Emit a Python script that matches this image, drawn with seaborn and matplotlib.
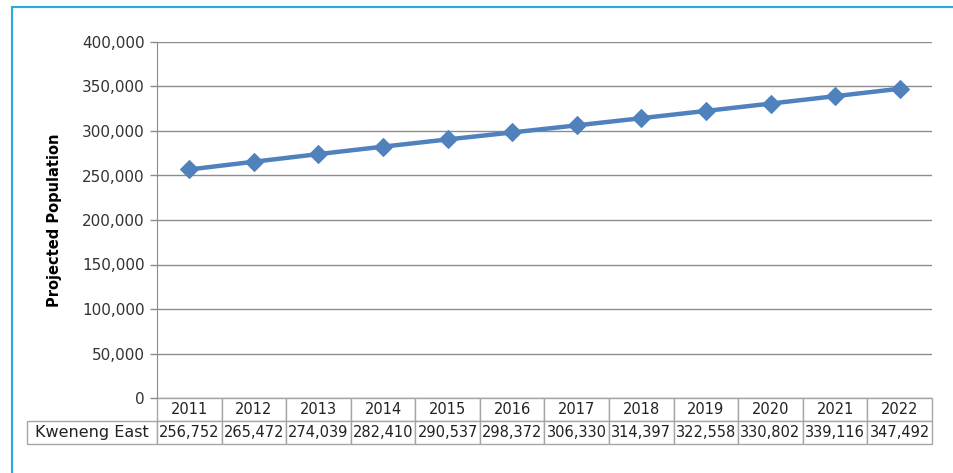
import matplotlib

matplotlib.use("Agg")
import matplotlib.pyplot as plt
from matplotlib.patches import Rectangle
from matplotlib.ticker import FuncFormatter
import seaborn as sns
import pandas as pd

# Chart data
years = ["2011", "2012", "2013", "2014", "2015", "2016",
         "2017", "2018", "2019", "2020", "2021", "2022"]
population = [256752, 265472, 274039, 282410, 290537, 298372,
              306330, 314397, 322558, 330802, 339116, 347492]
series_name = "Kweneng East"
y_ticks = [0, 50000, 100000, 150000, 200000, 250000, 300000, 350000, 400000]

df = pd.DataFrame({"Year": years, "Population": population})

sns.set_style("white")
plt.rcParams["font.family"] = ["DejaVu Sans"]

W, H = 954, 473
fig = plt.figure(figsize=(W / 100, H / 100), dpi=100)
ax = fig.add_axes([157 / W, 1 - 398 / H, (932 - 157) / W, (398 - 42) / H])

line_col = "#4F81BD"
grid_col = "#8C8C8C"

sns.lineplot(data=df, x="Year", y="Population", ax=ax, color=line_col,
             linewidth=3.2, marker="D", markersize=9, markeredgecolor=line_col)

ax.set_xlim(-0.5, len(years) - 0.5)
ax.set_ylim(0, 400000)
ax.set_yticks(y_ticks)
ax.yaxis.set_major_formatter(FuncFormatter(lambda v, p: f"{int(v):,}"))
ax.tick_params(axis="y", labelsize=11, labelcolor="#333333", length=5,
               width=1, left=True, pad=4, color=grid_col)
ax.set_xticks([])
ax.set_xlabel("")
ax.grid(axis="y", color=grid_col, linewidth=1)
ax.set_axisbelow(True)
for s in ["top", "right", "bottom"]:
    ax.spines[s].set_visible(False)
ax.spines["left"].set_color(grid_col)

ax.set_ylabel("Projected Population", fontsize=10.5, fontweight="bold",
              color="black", labelpad=14)

# data table under the chart
ax_h = 398 - 42
row_h = 23 / ax_h
tbl = ax.table(cellText=[[""] + years,
                         [series_name] + [f"{v:,}" for v in population]],
               cellLoc="center", loc="bottom",
               bbox=[-130 / 775, -2 * row_h, 1 + 130 / 775, 2 * row_h])
tbl.auto_set_font_size(False)
tbl.set_fontsize(10.5)
for (r, c), cell in tbl.get_celld().items():
    cell.set_edgecolor("#A6A6A6")
    cell.set_linewidth(1)
    cell.PAD = 0.01
    cell.get_text().set_color("#222222")
    if c == 0:
        cell.set_width(130 / 775)
        cell.get_text().set_fontsize(11.5)
    else:
        cell.set_width(1 / len(years))
    if r == 0 and c == 0:
        cell.visible_edges = ""

# outer frame
fig.patches.append(Rectangle((12 / W, -0.1), 1.1, 1 - 7 / H + 0.1,
                             transform=fig.transFigure, fill=False,
                             edgecolor="#29ABE2", linewidth=1.5))

fig.savefig("out.png", dpi=100)
plt.close(fig)
